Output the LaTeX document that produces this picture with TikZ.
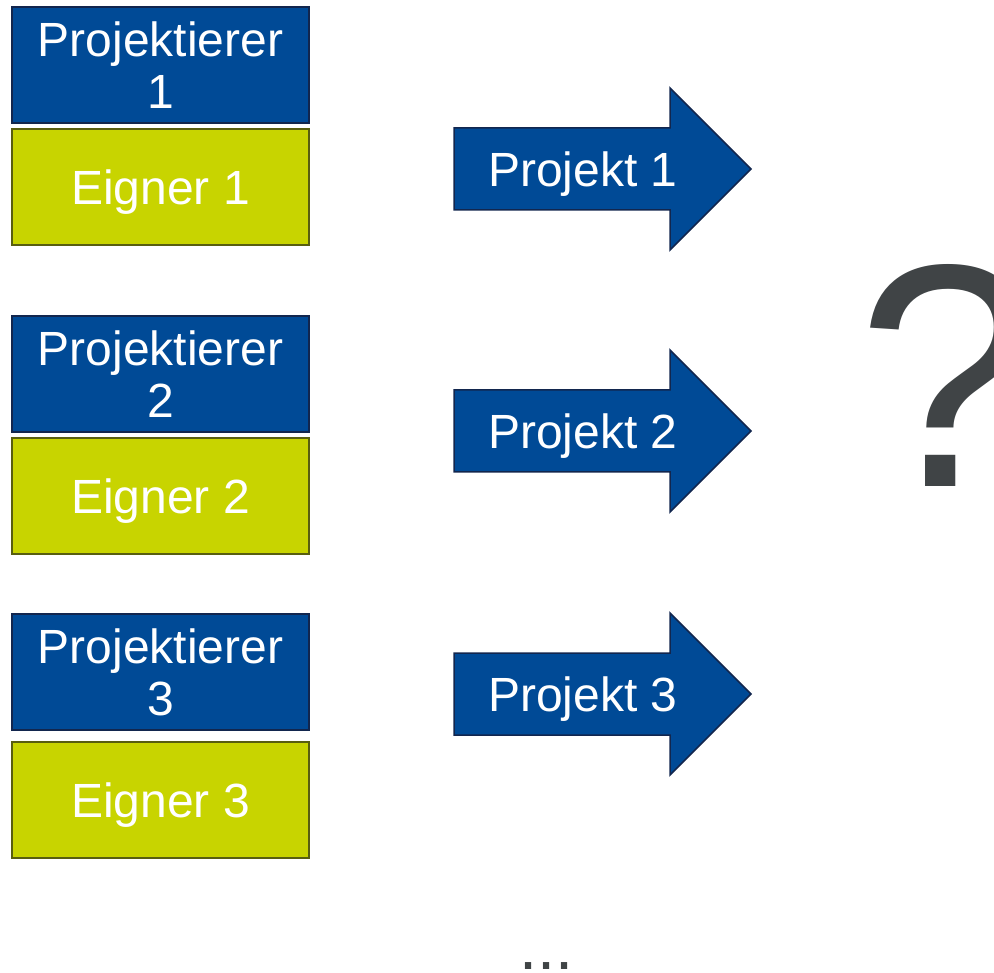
\documentclass[tikz,border=0pt]{standalone}
\usepackage{fontspec}
\setmainfont{Liberation Sans}
\definecolor{pblue}{RGB}{0,74,150}
\definecolor{pblueline}{RGB}{18,38,78}
\definecolor{egreen}{RGB}{200,212,0}
\definecolor{egreenline}{RGB}{88,94,16}
\definecolor{qgrey}{RGB}{64,68,70}
\tikzset{
  bluebox/.style={draw=pblueline, fill=pblue, line width=1.5pt, minimum width=297pt, minimum height=116pt,
    inner sep=0pt, text=white, align=center, font=\fontsize{48}{52}\selectfont},
  greenbox/.style={draw=egreenline, fill=egreen, line width=1.5pt, minimum width=297pt, minimum height=116pt,
    inner sep=0pt, text=white, text depth=0pt, font=\fontsize{48}{52}\selectfont},
  arrowshape/.style={draw=pblueline, fill=pblue, line width=1.5pt, line join=miter},
  arrowtext/.style={inner sep=0pt, text=white, text depth=0pt, font=\fontsize{48}{52}\selectfont}
}
\begin{document}
\begin{tikzpicture}[x=1pt,y=-1pt]
\useasboundingbox (0,0) rectangle (994,973);
% left column
\node[bluebox] (p1) at (160.5,65) {Projektierer\\1};
\node[greenbox] (e1) at (160.5,187) {Eigner 1};
\node[bluebox] (p2) at (160.5,374) {Projektierer\\2};
\node[greenbox] (e2) at (160.5,496) {Eigner 2};
\node[bluebox] (p3) at (160.5,672) {Projektierer\\3};
\node[greenbox] (e3) at (160.5,800) {Eigner 3};
% arrows
\foreach \i/\c in {1/169, 2/431, 3/694} {
  \draw[arrowshape] (454,\c-41) -- (670,\c-41) -- (670,\c-81) -- (751,\c) -- (670,\c+81) -- (670,\c+41) -- (454,\c+41) -- cycle;
}
\node[arrowtext] (a1) at (583,169) {Projekt 1};
\node[arrowtext] (a2) at (583,431) {Projekt 2};
\node[arrowtext] (a3) at (583,694) {Projekt 3};
% question mark
\node[anchor=base west, inner sep=0pt, text=qgrey, font=\fontsize{318}{320}\selectfont] (q) at (857,487) {?};
% dots
\node[anchor=base west, inner sep=0pt, text=qgrey, font=\fontsize{65}{70}\selectfont] (dots) at (519,969) {...};
\end{tikzpicture}
\end{document}
